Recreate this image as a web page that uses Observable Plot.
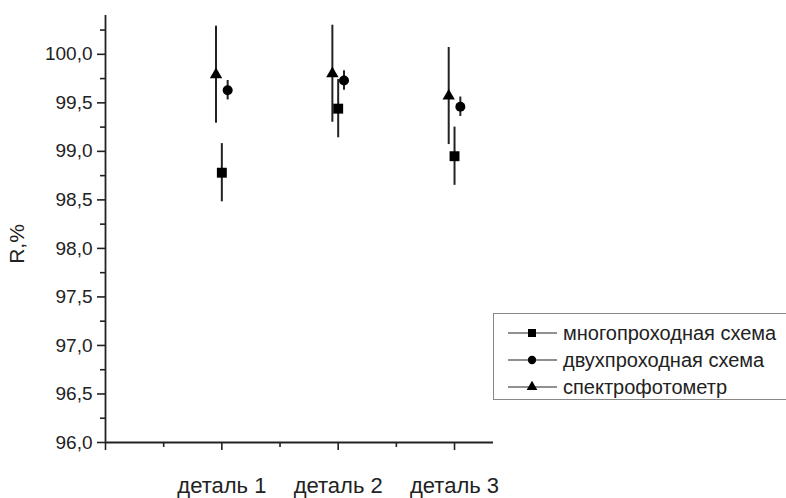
<!DOCTYPE html>
<html>
<head>
<meta charset="utf-8">
<script src="https://cdn.jsdelivr.net/npm/d3@7"></script>
<script src="https://cdn.jsdelivr.net/npm/@observablehq/plot@0.6"></script>
<style>
  html, body { margin: 0; padding: 0; background: #fff; }
  #wrap { position: relative; width: 786px; height: 498px; overflow: hidden; font-family: "Liberation Sans", Arial, sans-serif; }
  #legend { position: absolute; left: 493px; top: 313px; }
</style>
</head>
<body>
<div id="wrap"></div>
<script>
const categories = ["деталь 1", "деталь 2", "деталь 3"];
const seriesNames = ["многопроходная схема", "двухпроходная схема", "спектрофотометр"];
const multiValues = [98.78, 99.44, 98.95];
const multiErrors = [0.30, 0.30, 0.30];
const twoValues = [99.63, 99.73, 99.46];
const twoErrors = [0.10, 0.10, 0.10];
const spectroValues = [99.79, 99.80, 99.57];
const spectroErrors = [0.50, 0.50, 0.50];
const yMajorTicks = [96, 96.5, 97, 97.5, 98, 98.5, 99, 99.5, 100];
const yTickLabels = ["96,0", "96,5", "97,0", "97,5", "98,0", "98,5", "99,0", "99,5", "100,0"];

const symbols = ["square", "circle", "triangle"];
const radii = [5.6, 5, 4.6];
const offsets = [0, 0.05, -0.05];
const valueSets = [multiValues, twoValues, spectroValues];
const errorSets = [multiErrors, twoErrors, spectroErrors];

const rows = [];
seriesNames.forEach((name, s) => {
  categories.forEach((c, i) => {
    rows.push({series: name, s, cat: i + 1, x: i + 1 + offsets[s], v: valueSets[s][i], e: errorSets[s][i]});
  });
});

const yMinor = d3.range(96.25, 100.4, 0.5);
const ink = "#222";
const font = "Liberation Sans, Arial, sans-serif";

const plot = Plot.plot({
  width: 786,
  height: 498,
  marginLeft: 105,
  marginRight: 293,
  marginTop: 15,
  marginBottom: 56,
  style: {fontFamily: font, fontSize: "19px", color: ink, background: "#fff"},
  x: {domain: [0, 3.335], axis: null},
  y: {domain: [96, 100.4], axis: null},
  r: {type: "identity"},
  marks: [
    Plot.axisY(yMajorTicks, {tickSize: 8, tickPadding: 5, strokeWidth: 1.6, fontSize: 19, fill: ink,
      tickFormat: d => yTickLabels[yMajorTicks.indexOf(d)], label: null}),
    Plot.axisY(yMinor, {tickSize: 5, strokeWidth: 1.6, text: null, label: null}),
    Plot.axisX([0, 1, 2, 3], {tickSize: 8, tickPadding: 27, strokeWidth: 1.6, fontSize: 22, fill: ink,
      tickFormat: d => d === 0 ? "" : categories[d - 1], label: null}),
    Plot.axisX([0.5, 1.5, 2.5], {tickSize: 5, strokeWidth: 1.6, text: null, label: null}),
    Plot.ruleX([0], {stroke: ink, strokeWidth: 1.8}),
    Plot.ruleY([96], {stroke: ink, strokeWidth: 1.8}),
    Plot.text(["R,%"], {frameAnchor: "left", dx: -88, dy: 15, rotate: -90, fontSize: 21, fill: ink, textAnchor: "middle"}),
    Plot.ruleX(rows, {x: "x", y1: d => d.v - d.e, y2: d => d.v + d.e, stroke: ink, strokeWidth: 2}),
    Plot.dot(rows, {x: "x", y: "v", symbol: d => symbols[d.s], r: d => radii[d.s], fill: "#000", stroke: "none"}),
  ]
});
document.getElementById("wrap").appendChild(plot);

// Legend
const lg = d3.select("#wrap").append("svg").attr("id", "legend").attr("width", 300).attr("height", 90);
lg.append("rect").attr("x", 0.5).attr("y", 0.5).attr("width", 320).attr("height", 86)
  .attr("fill", "#fff").attr("stroke", "#888").attr("stroke-width", 1);
seriesNames.forEach((name, s) => {
  const cy = 20 + s * 27;
  const g = lg.append("g").attr("transform", `translate(0,${cy})`);
  g.append("line").attr("x1", 15).attr("x2", 64).attr("y1", 0).attr("y2", 0).attr("stroke", ink).attr("stroke-width", 1.2);
  const sym = [d3.symbolSquare, d3.symbolCircle, d3.symbolTriangle][s];
  const size = [64, 55, 50][s];
  g.append("path").attr("d", d3.symbol(sym, size)()).attr("transform", "translate(39,0)").attr("fill", "#000");
  g.append("text").attr("x", 70).attr("y", 0).attr("dy", "0.35em").attr("font-size", 20)
    .attr("font-family", font).attr("fill", ink).text(name);
});
</script>
</body>
</html>
